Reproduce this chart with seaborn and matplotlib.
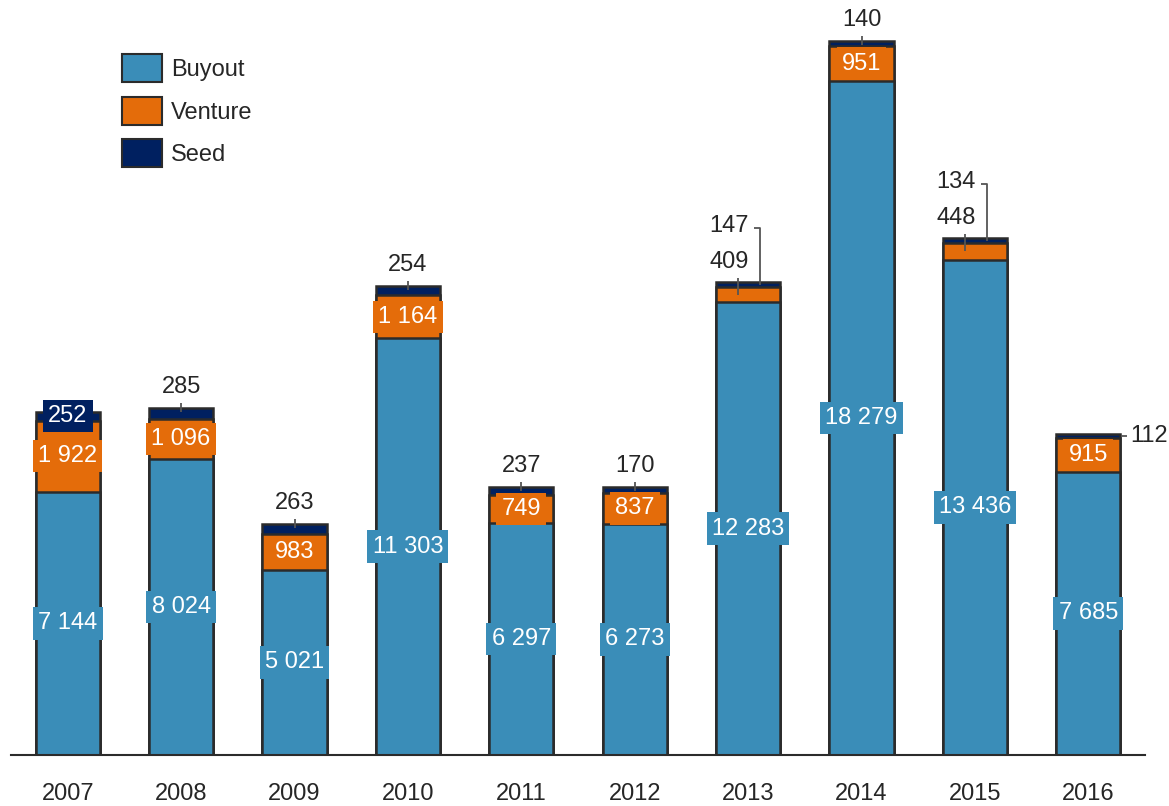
import numpy as np
import pandas as pd
import seaborn as sns
import matplotlib.pyplot as plt
from matplotlib.patches import Patch

# ---- data ----
years = ['2007', '2008', '2009', '2010', '2011', '2012', '2013', '2014', '2015', '2016']
buyout = [7144, 8024, 5021, 11303, 6297, 6273, 12283, 18279, 13436, 7685]
venture = [1922, 1096, 983, 1164, 749, 837, 409, 951, 448, 915]
seed = [252, 285, 263, 254, 237, 170, 147, 140, 134, 112]
series_names = ['Buyout', 'Venture', 'Seed']

# label placement style per year
seed_pos = ['inside', 'above', 'above', 'above', 'above', 'above', 'elbow', 'above', 'elbow', 'right']
venture_pos = ['inside', 'inside', 'inside', 'inside', 'inside', 'inside', 'above', 'inside', 'above', 'inside']

BUY = '#3A8DB8'
VEN = '#E46C0A'
SEED = '#002060'
EDGE = '#2B2B2B'
TXT = '#262626'
FS = 17

sns.set_theme(style='white')
plt.rcParams['font.family'] = ['Liberation Sans Narrow', 'Liberation Sans', 'DejaVu Sans']

df = pd.DataFrame({'year': years, 'buyout': buyout, 'venture': venture, 'seed': seed})
df['bv'] = df['buyout'] + df['venture']
df['total'] = df['bv'] + df['seed']

fig = plt.figure(figsize=(11.69, 8.06), dpi=100)
ax = fig.add_axes([11 / 1169, 51 / 806, (1145 - 11) / 1169, (755 - 10) / 806])

W = 0.565
common = dict(ax=ax, saturation=1, width=W, edgecolor=EDGE, linewidth=1.8, errorbar=None)
sns.barplot(data=df, x='year', y='total', color=SEED, **common)
sns.barplot(data=df, x='year', y='bv', color=VEN, **common)
sns.barplot(data=df, x='year', y='buyout', color=BUY, **common)

ax.set_xlim(-0.5, 9.5)
ax.set_ylim(0, 745 * 19370 / 714)
ax.set_xlabel('')
ax.set_ylabel('')
ax.set_yticks([])
for s in ['top', 'right', 'left']:
    ax.spines[s].set_visible(False)
ax.spines['bottom'].set_color(EDGE)
ax.spines['bottom'].set_linewidth(1.5)
ax.tick_params(axis='x', length=0, pad=20, labelsize=FS, labelcolor=TXT)


def fmt(v):
    return f"{v:,}".replace(",", " ")


def P(x, y, dx, dy):
    X, Y = ax.transData.transform((x, y))
    return ax.transData.inverted().transform((X + dx, Y + dy))


def seg(x, y, pts):
    xs, ys = zip(*[P(x, y, dx, dy) for dx, dy in pts])
    ax.plot(xs, ys, color='#555555', lw=1.3, solid_capstyle='butt', zorder=5)


def lbl(x, y, dx, dy, s, **kw):
    ax.annotate(s, (x, y), xytext=(dx, dy), textcoords='offset pixels',
                fontsize=FS, zorder=6, **kw)


box = lambda c: dict(boxstyle='square,pad=0.22', fc=c, ec='none')

for i in range(len(years)):
    b, v, s = buyout[i], venture[i], seed[i]
    top = b + v + s
    # buyout
    ax.text(i, b / 2, fmt(b), ha='center', va='center', color='white', fontsize=FS,
            bbox=box(BUY), zorder=6)
    # venture
    if venture_pos[i] == 'inside':
        ax.text(i, b + v / 2, fmt(v), ha='center', va='center', color='white', fontsize=FS,
                bbox=box(VEN), zorder=6)
    else:
        lbl(i, top, -19, 20, fmt(v), ha='center', va='center', color=TXT)
        seg(i, top, [(-10, -13), (-10, 4)])
    # seed
    mode = seed_pos[i]
    if mode == 'inside':
        ax.text(i, b + v + s / 2, fmt(s), ha='center', va='center', color='white', fontsize=FS,
                bbox=box(SEED), zorder=6)
    elif mode == 'above':
        lbl(i, top, 0, 21, fmt(s), ha='center', va='center', color=TXT)
        seg(i, top, [(0, -4), (0, 5)])
    elif mode == 'elbow':
        lbl(i, top, -19, 56, fmt(s), ha='center', va='center', color=TXT)
        seg(i, top, [(6, 54), (12, 54), (12, -3)])
    elif mode == 'right':
        ym = b + v + s / 2
        lbl(i + W / 2, ym, 10, 0, fmt(s), ha='left', va='center', color=TXT)
        seg(i + W / 2, ym, [(1, 0), (7, 0)])

handles = [Patch(facecolor=c, edgecolor=EDGE, linewidth=1.5) for c in (BUY, VEN, SEED)]
ax.legend(handles, series_names, loc='upper left', bbox_to_anchor=(122 / 1169, 1 - 54 / 806),
          bbox_transform=fig.transFigure, frameon=False, fontsize=FS,
          handlelength=1.7, handleheight=1.45, handletextpad=0.38, labelspacing=0.62,
          borderpad=0, borderaxespad=0, labelcolor=TXT)

fig.savefig('out.png', dpi=100)
